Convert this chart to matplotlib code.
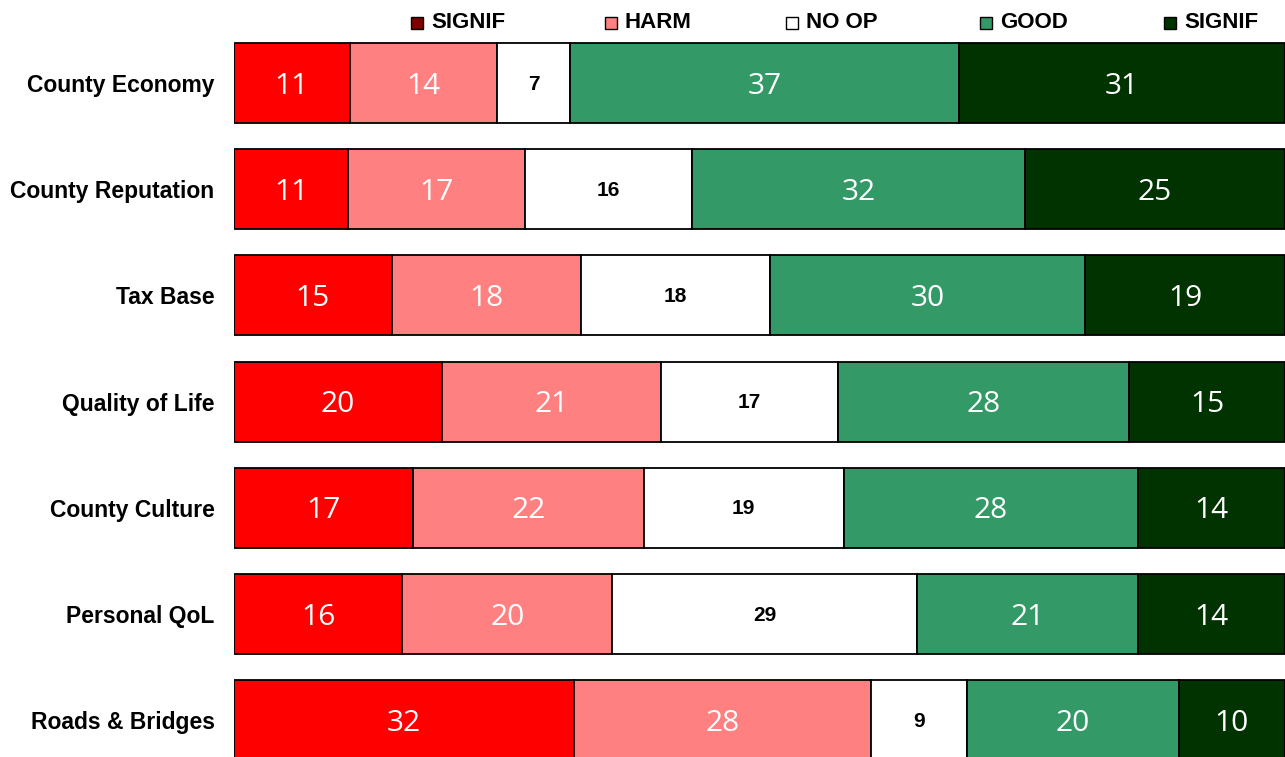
import numpy as np
import matplotlib.pyplot as plt
from matplotlib.patches import Rectangle

categories = ['County Economy', 'County Reputation', 'Tax Base', 'Quality of Life',
              'County Culture', 'Personal QoL', 'Roads & Bridges']
signif_harm = [11, 11, 15, 20, 17, 16, 32]
harm = [14, 17, 18, 21, 22, 20, 28]
no_op = [7, 16, 18, 17, 19, 29, 9]
good = [37, 32, 30, 28, 28, 21, 20]
signif_good = [31, 25, 19, 15, 14, 14, 10]
legend_labels = ['SIGNIF', 'HARM', 'NO OP', 'GOOD', 'SIGNIF']

series = [signif_harm, harm, no_op, good, signif_good]
colors = ['#ff0000', '#ff8080', '#ffffff', '#339966', '#003300']
legend_colors = ['#800000', '#ff8080', '#ffffff', '#339966', '#003300']

data = np.array(series, dtype=float)
shares = data / data.sum(axis=0) * 100

fig = plt.figure(figsize=(12.85, 7.57), dpi=100)
ax = fig.add_axes([234 / 1285, 0, 1 - 234 / 1285, 1])

y = np.arange(len(categories))
left = np.zeros(len(categories))
for k in range(len(series)):
    ax.barh(y, shares[k], left=left, height=0.755, color=colors[k],
            edgecolor='black', linewidth=1.3)
    for i in range(len(categories)):
        cx = left[i] + shares[k][i] / 2
        if k == 2:
            ax.text(cx, y[i] + 0.01, f'{int(data[k][i])}', ha='center', va='center',
                    fontsize=15, fontweight='bold', color='black',
                    family=['Liberation Sans', 'DejaVu Sans'])
        else:
            ax.text(cx, y[i] + 0.03, f'{int(data[k][i])}', ha='center', va='center',
                    fontsize=21.5, fontweight='normal', color='white',
                    family=['Open Sans', 'DejaVu Sans'])
    left += shares[k]

ax.set_xlim(0, 100)
ax.set_ylim((757 - 83) / 106.2, -83 / 106.2)
ax.set_yticks(y)
ax.set_yticklabels(categories, fontsize=16.5, fontweight='bold',
                   family=['Liberation Sans', 'DejaVu Sans'])
ax.tick_params(axis='y', length=0, pad=14)
ax.set_xticks([])
for s in ax.spines.values():
    s.set_visible(False)

# legend along the top
leg_x = [411, 605, 786, 980, 1164]
for x0, lab, c in zip(leg_x, legend_labels, legend_colors):
    fig.patches.append(Rectangle((x0 / 1285, 1 - 29 / 757), 12 / 1285, 12 / 757,
                                 transform=fig.transFigure, facecolor=c,
                                 edgecolor='black', linewidth=1))
    fig.text((x0 + 20) / 1285, 1 - 23 / 757, lab, ha='left', va='center',
             fontsize=16, fontweight='bold',
             family=['Liberation Sans', 'DejaVu Sans'])

fig.savefig('out.png', dpi=100)
